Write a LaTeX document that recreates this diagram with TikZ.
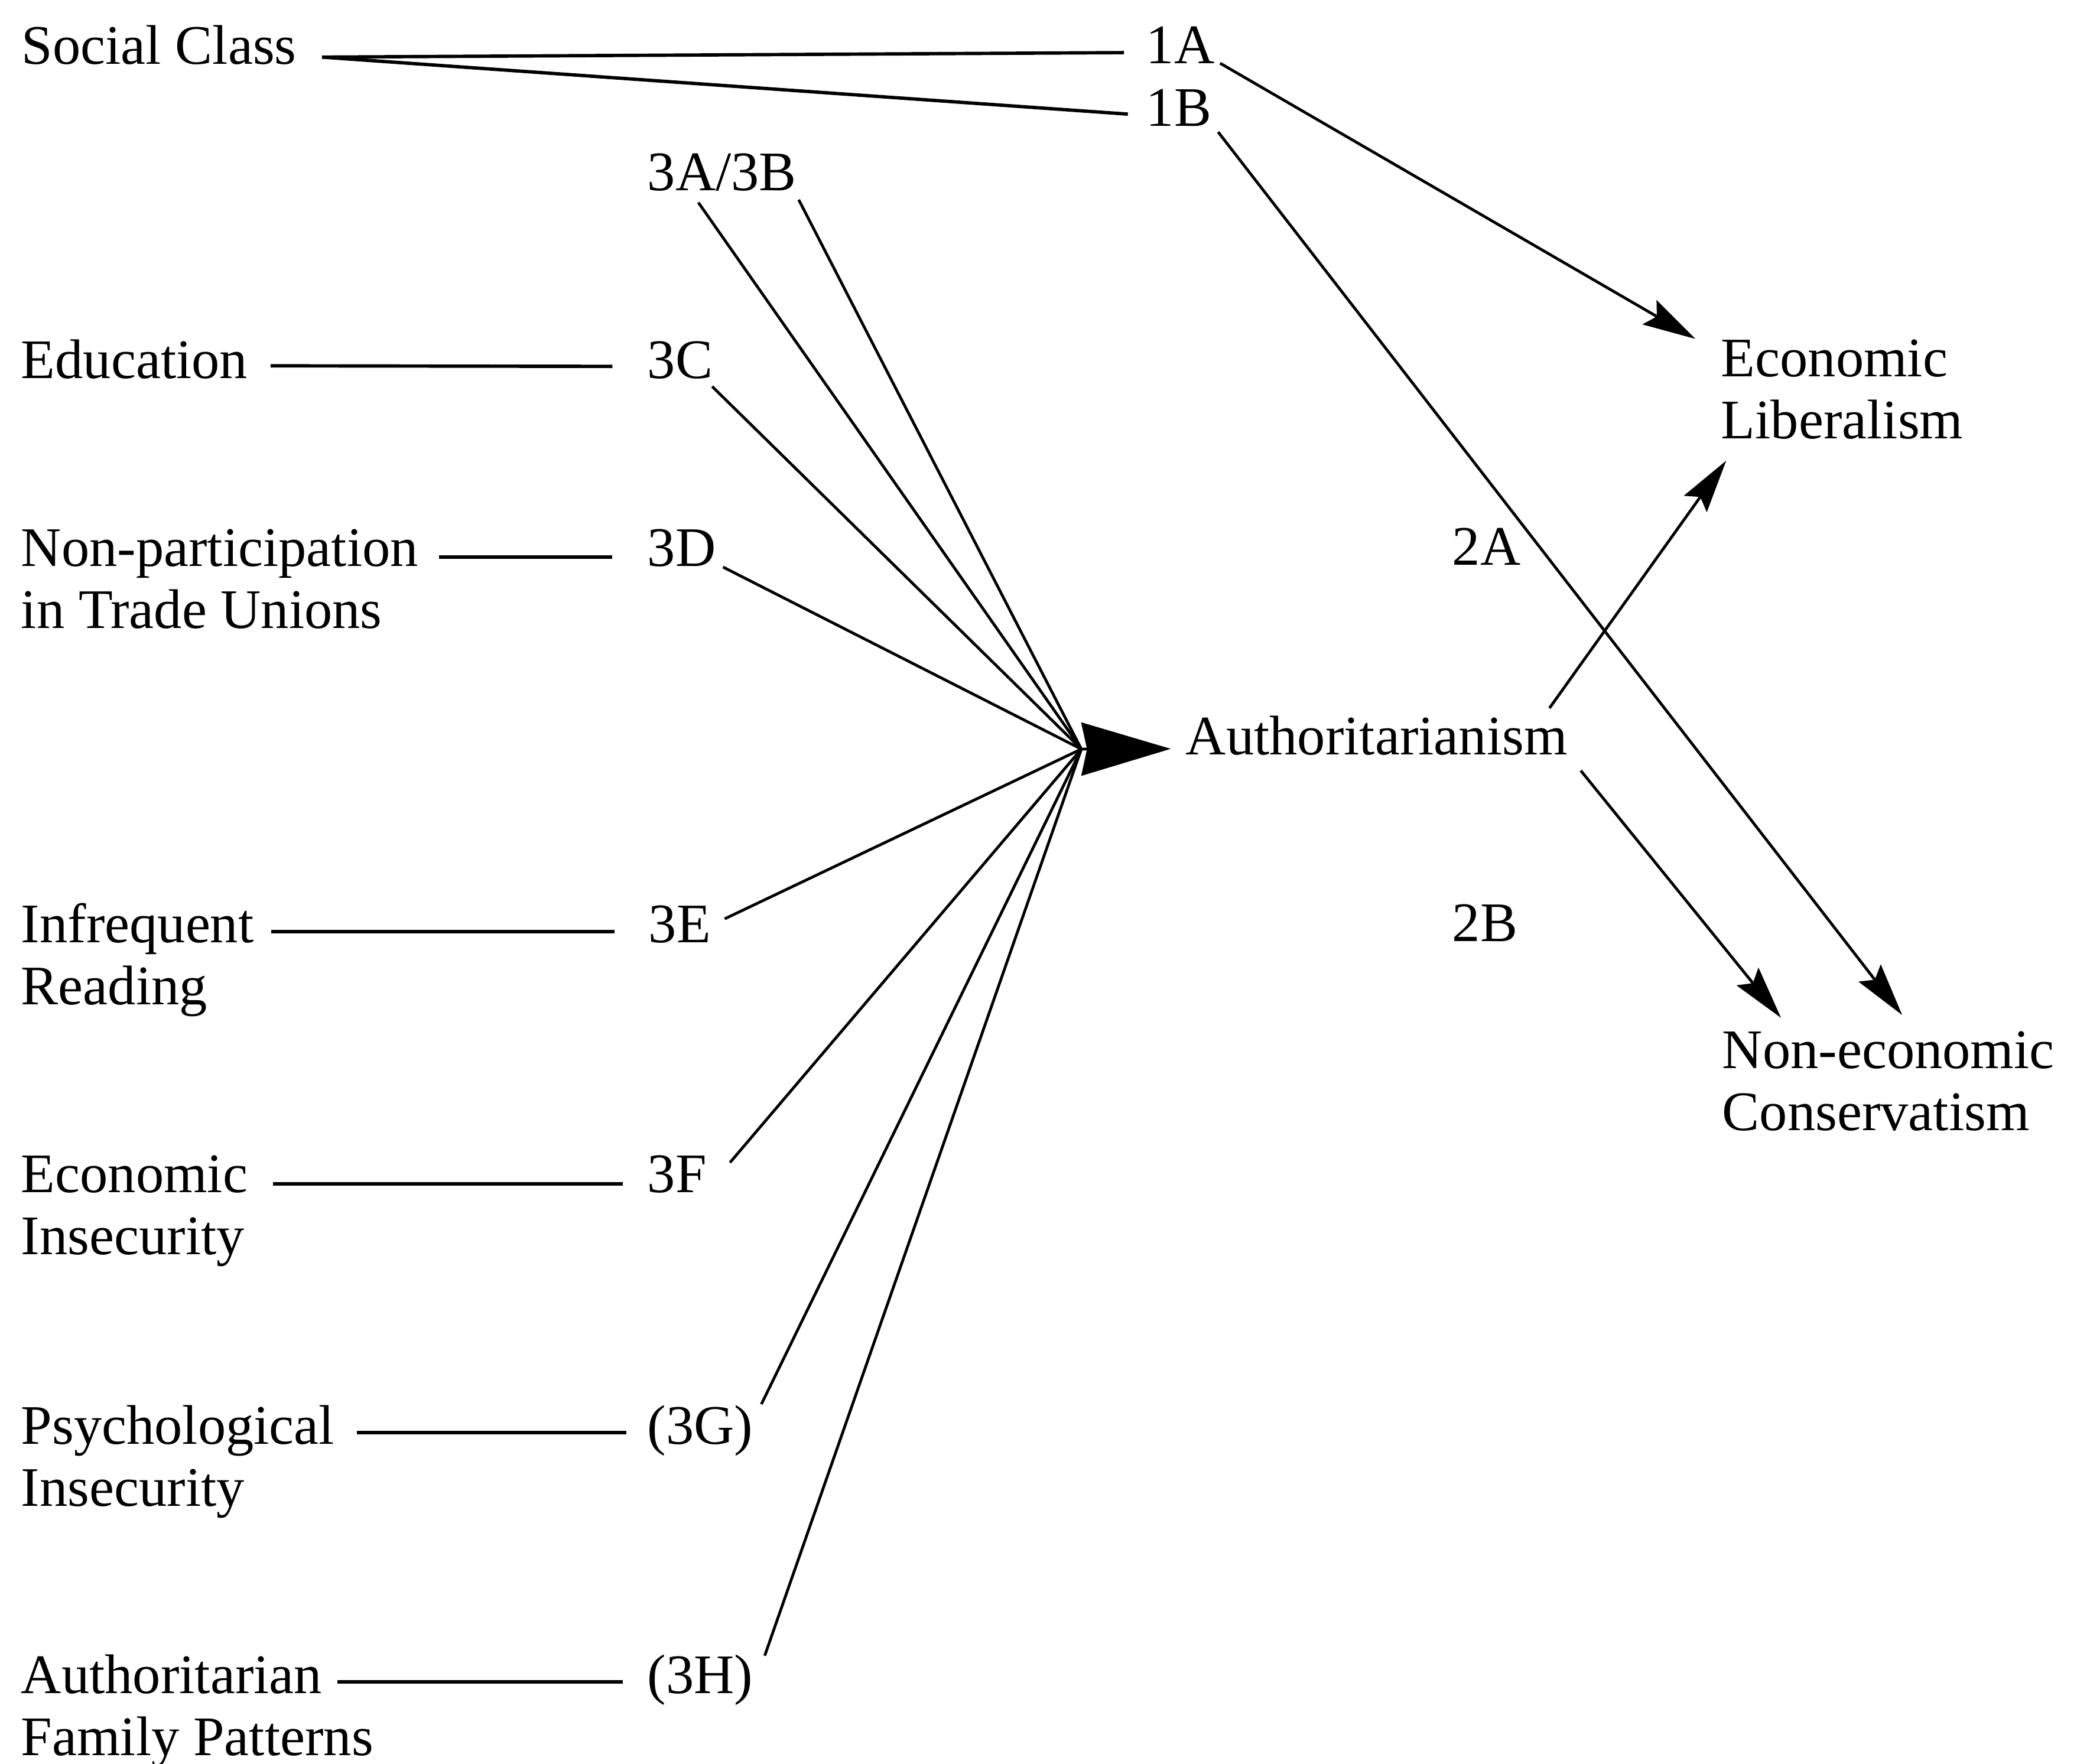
\documentclass[tikz,border=0pt]{standalone}
\usepackage{fontspec}
\setmainfont{Liberation Serif}
\usetikzlibrary{arrows.meta}
\tikzset{
 lbl/.style={inner sep=0pt,anchor=base west,font=\fontsize{10}{11.2}\selectfont},
 link/.style={line width=0.6pt},
 ray/.style={line width=0.5pt},
 effect/.style={line width=0.5pt,-{Stealth[length=9.5pt,width=5pt,inset=1.5pt]}},
}
\begin{document}
\begin{tikzpicture}[x=0.37191cm,y=-0.37191cm]
 \useasboundingbox (0,0) rectangle (35.15,29.86);
 \node[lbl] (soc) at (0.35,1.08) {Social Class};
 \node[lbl] (edu) at (0.34,6.40) {Education};
 \node[lbl] (trade) at (0.34,9.58) {Non-participation};
 \node[lbl] (tradeB) at ([yshift=-11.2pt]trade.base west) {in Trade Unions};
 \node[lbl] (read) at (0.34,15.95) {Infrequent};
 \node[lbl] (readB) at ([yshift=-11.2pt]read.base west) {Reading};
 \node[lbl] (econ) at (0.34,20.18) {Economic};
 \node[lbl] (econB) at ([yshift=-11.2pt]econ.base west) {Insecurity};
 \node[lbl] (psych) at (0.34,24.44) {Psychological};
 \node[lbl] (psychB) at ([yshift=-11.2pt]psych.base west) {Insecurity};
 \node[lbl] (fam) at (0.34,28.66) {Authoritarian};
 \node[lbl] (famB) at ([yshift=-11.2pt]fam.base west) {Family Patterns};
 \node[lbl] (pA) at (19.38,1.07) {1A};
 \node[lbl] (pB) at (19.38,2.13) {1B};
 \node[lbl] (pAB) at (10.94,3.22) {3A/3B};
 \node[lbl] (pC) at (10.94,6.40) {3C};
 \node[lbl] (pD) at (10.94,9.58) {3D};
 \node[lbl] (pE) at (10.96,15.95) {3E};
 \node[lbl] (pF) at (10.94,20.18) {3F};
 \node[lbl] (pG) at (10.94,24.44) {(3G)};
 \node[lbl] (pH) at (10.94,28.66) {(3H)};
 \node[lbl] (qA) at (24.56,9.56) {2A};
 \node[lbl] (qB) at (24.56,15.93) {2B};
 \node[lbl] (auth) at (20.05,12.77) {Authoritarianism};
 \node[lbl] (lib) at (29.11,6.37) {Economic};
 \node[lbl] (libB) at ([yshift=-11.2pt]lib.base west) {Liberalism};
 \node[lbl] (cons) at (29.13,18.08) {Non-economic};
 \node[lbl] (consB) at ([yshift=-11.2pt]cons.base west) {Conservatism};
 \coordinate (hub) at (18.30,12.68);
 \draw[link] ([xshift=4.4pt,yshift=1.2pt]soc.base east) -- ([xshift=-3.8pt,yshift=1.9pt]pA.base west);
 \draw[link] ([xshift=4.4pt,yshift=1.2pt]soc.base east) -- ([xshift=-3.1pt,yshift=2.1pt]pB.base west);
 \draw[link] ([xshift=3.9pt,yshift=2.2pt]edu.base east) -- ([xshift=-6.1pt,yshift=2.1pt]pC.base west);
 \draw[link] ([xshift=3.5pt,yshift=1.6pt]trade.base east) -- ([xshift=-6.1pt,yshift=1.6pt]pD.base west);
 \draw[link] ([xshift=2.9pt,yshift=1.9pt]read.base east) -- ([xshift=-5.9pt,yshift=1.9pt]pE.base west);
 \draw[link] ([xshift=4.4pt,yshift=1.5pt]econ.base east) -- ([xshift=-4.2pt,yshift=1.5pt]pF.base west);
 \draw[link] ([xshift=3.8pt,yshift=2pt]psych.base east) -- ([xshift=-3.6pt,yshift=2pt]pG.base west);
 \draw[link] ([xshift=2.6pt,yshift=2pt]fam.base east) -- ([xshift=-4.2pt,yshift=2pt]pH.base west);
 \draw[ray] ([xshift=9.3pt,yshift=-2.2pt]pAB.base west) -- (hub);
 \draw[ray] ([xshift=0.2pt,yshift=-1.7pt]pAB.base east) -- (hub);
 \draw[ray] ([xshift=-0.3pt,yshift=-1.5pt]pC.base east) -- (hub);
 \draw[ray] ([xshift=1.1pt,yshift=-0.2pt]pD.base east) -- (hub);
 \draw[ray] ([xshift=2.3pt,yshift=4.2pt]pE.base east) -- (hub);
 \draw[ray] ([xshift=4pt,yshift=5.3pt]pF.base east) -- (hub);
 \draw[ray] ([xshift=1.3pt,yshift=7.1pt]pG.base east) -- (hub);
 \draw[ray] ([xshift=1.9pt,yshift=6.7pt]pH.base east) -- (hub);
 \draw[ray,-{Stealth[length=16pt,width=9.5pt,inset=1pt]}] (hub) -- ([xshift=-2.5pt,yshift=1pt]auth.base west);
 \draw[effect] ([xshift=0.8pt]pA.base east) -- ([xshift=-4.4pt,yshift=6.7pt]lib.base west);
 \draw[effect] ([xshift=1pt,yshift=-1.1pt]pB.base east) -- ([xshift=32.4pt,yshift=9.5pt]cons.base west);
 \draw[effect] ([xshift=-3.4pt,yshift=8.3pt]auth.base east) -- ([xshift=1.1pt,yshift=-3.9pt]libB.base west);
 \draw[effect] ([xshift=2.2pt,yshift=-2.9pt]auth.base east) -- ([xshift=10.7pt,yshift=9pt]cons.base west);
\end{tikzpicture}
\end{document}
